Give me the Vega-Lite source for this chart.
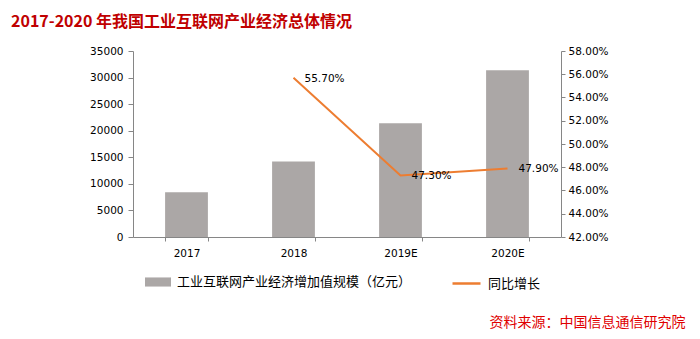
{
  "$schema": "https://vega.github.io/schema/vega-lite/v6.json",
  "width": 428,
  "height": 186,
  "autosize": {"type": "none"},
  "padding": {"left": 133, "top": 51, "right": 139, "bottom": 102},
  "background": "#FFFFFF",
  "title": {
    "text": "2017-2020 年我国工业互联网产业经济总体情况",
    "anchor": "start",
    "frame": "group",
    "dx": -122,
    "offset": 16,
    "font": "Noto Sans CJK SC",
    "fontSize": 16,
    "fontWeight": "bold",
    "color": "#C00000"
  },
  "config": {
    "view": {"stroke": null},
    "axis": {"labelFont": "DejaVu Sans", "labelFontSize": 10.5, "labelColor": "#000000", "domainColor": "#868686", "tickColor": "#868686", "grid": false}
  },
  "data": {
    "values": [
      {"year": "2017", "value": 8400, "growth": null},
      {"year": "2018", "value": 14200, "growth": 0.557},
      {"year": "2019E", "value": 21400, "growth": 0.473},
      {"year": "2020E", "value": 31400, "growth": 0.479}
    ]
  },
  "encoding": {
    "x": {
      "field": "year",
      "type": "ordinal",
      "sort": null,
      "scale": {"paddingInner": 0.6, "paddingOuter": 0.3},
      "axis": {
        "labelAngle": 0,
        "ticks": true,
        "tickBand": "extent",
        "tickSize": 4,
        "labelPadding": 7,
        "title": "资料来源：中国信息通信研究院",
        "titleFont": "Noto Sans CJK SC",
        "titleFontSize": 14,
        "titleFontWeight": "normal",
        "titleColor": "#E00000",
        "titleAnchor": null,
        "titleAlign": "right",
        "titleBaseline": "middle",
        "titleX": 552,
        "titleY": 85
      }
    }
  },
  "layer": [
    {
      "mark": {"type": "bar"},
      "encoding": {
        "y": {
          "field": "value",
          "type": "quantitative",
          "scale": {"domain": [0, 35000], "nice": false},
          "axis": {"title": null, "values": [0, 5000, 10000, 15000, 20000, 25000, 30000, 35000], "tickSize": 5, "labelPadding": 5, "format": "d"}
        },
        "fill": {
          "datum": "工业互联网产业经济增加值规模（亿元）",
          "scale": {"range": ["#ABA7A6"]},
          "legend": {
            "orient": "none",
            "legendX": 12,
            "legendY": 218,
            "padding": 0,
            "title": null,
            "symbolType": "M-1,-0.35H1V0.35H-1Z",
            "symbolSize": 676,
            "symbolStrokeWidth": 0,
            "labelOffset": 6,
            "labelFont": "Noto Sans CJK SC",
            "labelFontSize": 13,
            "labelColor": "#000000",
            "labelLimit": 400
          }
        }
      }
    },
    {
      "encoding": {
        "y": {
          "field": "growth",
          "type": "quantitative",
          "scale": {"domain": [0.42, 0.58], "nice": false, "zero": false},
          "axis": {"title": null, "orient": "right", "values": [0.42, 0.44, 0.46, 0.48, 0.5, 0.52, 0.54, 0.56, 0.58], "format": ".2%", "tickSize": 4, "labelPadding": 3}
        }
      },
      "layer": [
        {
          "transform": [{"filter": "datum.growth != null"}],
          "mark": {"type": "line", "strokeWidth": 2},
          "encoding": {
            "stroke": {
              "datum": "同比增长",
              "scale": {"range": ["#ED7D31"]},
              "legend": {
                "orient": "none",
                "legendX": 318,
                "legendY": 217,
                "padding": 0,
                "title": null,
                "symbolType": "stroke",
                "symbolSize": 784,
                "symbolStrokeWidth": 2.5,
                "labelOffset": 6,
                "labelFont": "Noto Sans CJK SC",
                "labelFontSize": 13,
                "labelColor": "#000000"
              }
            }
          }
        },
        {
          "transform": [{"filter": "datum.growth != null"}],
          "mark": {"type": "text", "align": "left", "baseline": "middle", "dx": 11, "dy": 1, "font": "DejaVu Sans", "fontSize": 10.5, "color": "#000000"},
          "encoding": {
            "text": {"field": "growth", "type": "quantitative", "format": ".2%"}
          }
        }
      ]
    }
  ],
  "resolve": {"scale": {"y": "independent"}}
}
